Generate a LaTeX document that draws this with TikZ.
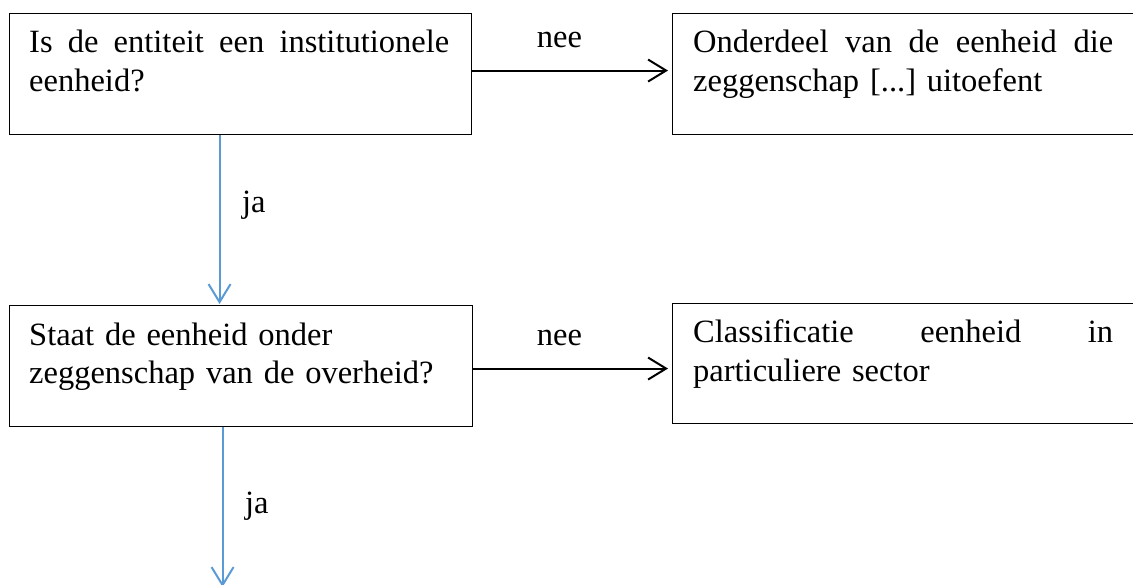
\documentclass[tikz,border=0pt]{standalone}
\usepackage{fontspec}
\setmainfont{Liberation Serif}
\newfontfamily\tnrfont{Liberation Serif}
\usetikzlibrary{arrows.meta}
\definecolor{flowblue}{HTML}{5B9BD5}
\newlength{\boxtw}
\setlength{\boxtw}{420pt}
\newcommand{\justline}[1]{\hbox to\boxtw{#1}}
\begin{document}
\begin{tikzpicture}[x=1pt,y=-1pt,
  box/.style={draw=black,line width=1.1pt,minimum width=462pt,anchor=north west,inner sep=0pt},
  txt/.style={anchor=base west,inner sep=0pt,text width=\boxtw,align=left,
    font=\tnrfont\fontsize{32.5}{39}\selectfont},
  lbl/.style={inner sep=0pt,font=\tnrfont\fontsize{32.5}{39}\selectfont},
  noarrow/.style={draw=black,line width=2pt,-{Straight Barb[length=18pt,width=22pt]}},
  jaarrow/.style={draw=flowblue,line width=2pt,-{Straight Barb[length=18pt,width=22pt]}}]
\clip (0,0) rectangle (1133,585);
\fill[white] (0,0) rectangle (1133,585);
% boxes
\node[box,minimum height=121.3pt] (b1) at (9,12.7) {};
\node[box,minimum height=121.3pt,minimum width=464pt] (b2) at (672,12.7) {};
\node[box,minimum height=121pt,minimum width=463pt] (b3) at (9,305) {};
\node[box,minimum height=120pt,minimum width=464pt] (b4) at (672,303) {};
% texts
\node[txt] (t1) at (29,53) {\justline{Is\hfill de\hfill entiteit\hfill een\hfill institutionele}\\eenheid?};
\node[txt] (t2) at (693,53) {\justline{Onderdeel\hfill van\hfill de\hfill eenheid\hfill die}\\zeggenschap [...]\ uitoefent};
\node[txt] (t3) at (29,345) {Staat de eenheid onder\\zeggenschap van de overheid?};
\node[txt] (t4) at (693,343) {\justline{Classificatie\hfill eenheid\hfill in}\\particuliere sector};
% labels
\node[lbl,anchor=base] (n1) at (559.5,48) {nee};
\node[lbl,anchor=base] (n2) at (559.5,346) {nee};
\node[lbl,anchor=base west] (j1) at (242,213) {ja};
\node[lbl,anchor=base west] (j2) at (245,513) {ja};
% connectors
\draw[noarrow,shorten >=4pt] ([yshift=3.35pt]b1.east) -- ([yshift=3.35pt]b1.east -| b2.west);
\draw[noarrow,shorten >=4pt] ([yshift=-2.5pt]b3.east) -- ([yshift=-2.5pt]b3.east -| b4.west);
\draw[jaarrow,shorten >=1pt] ([xshift=-21pt]b1.south) -- ([xshift=-21pt]b1.south |- b3.north);
\coordinate (end) at (222,587);
\draw[jaarrow] ([xshift=-18.5pt]b3.south) -- ([xshift=-18.5pt]b3.south |- end);
\end{tikzpicture}
\end{document}
